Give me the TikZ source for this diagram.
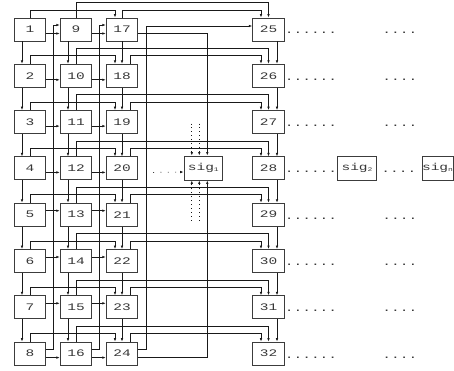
\documentclass[tikz,border=0pt]{standalone}
\usepackage{fontspec}
\usepackage{tikz}
\usetikzlibrary{arrows.meta}
\newfontfamily\netfont[FakeStretch=1.45]{Liberation Mono}
\newcommand{\sigsub}[1]{\raisebox{-0.6pt}{\fontsize{5.5}{5.5}\selectfont #1}}
\definecolor{netline}{RGB}{25,25,25}
\definecolor{netbox}{RGB}{60,60,60}
\definecolor{nettext}{RGB}{55,55,55}
\tikzset{
  bx/.style  ={draw=netbox, line width=0.9pt, minimum width=31.5pt, minimum height=23pt, inner sep=0pt, text=nettext, font=\netfont\fontsize{10}{10}\selectfont},
  sg/.style  ={bx, minimum width=38.5pt, minimum height=24pt},
  ar/.style  ={draw=netline, line width=0.7pt, -{Latex[length=3.5pt,width=2.6pt]}},
  dar/.style ={ar, dash pattern=on 0.9pt off 3pt},
  darh/.style={ar, dash pattern=on 0.9pt off 6.4pt},
  dt/.style  ={font=\netfont\fontsize{10}{10}\selectfont, text=nettext, inner sep=0pt, anchor=base west},
}
\begin{document}
\begin{tikzpicture}[x=1pt,y=1pt]
  \useasboundingbox (0,0) rectangle (454,370);
  % first column
  \node[bx] (a1) at (30,340.5) {1};
  \node[bx] (a2) at (30,294.2) {2};
  \node[bx] (a3) at (30,247.9) {3};
  \node[bx] (a4) at (30,201.6) {4};
  \node[bx] (a5) at (30,155.3) {5};
  \node[bx] (a6) at (30,109.0) {6};
  \node[bx] (a7) at (30,62.7) {7};
  \node[bx] (a8) at (30,16.4) {8};
  % second column
  \node[bx] (b1) at (76,340.5) {9};
  \node[bx] (b2) at (76,294.2) {10};
  \node[bx] (b3) at (76,247.9) {11};
  \node[bx] (b4) at (76,201.6) {12};
  \node[bx] (b5) at (76,155.3) {13};
  \node[bx] (b6) at (76,109.0) {14};
  \node[bx] (b7) at (76,62.7) {15};
  \node[bx] (b8) at (76,16.4) {16};
  % third column
  \node[bx] (c1) at (122,340.5) {17};
  \node[bx] (c2) at (122,294.2) {18};
  \node[bx] (c3) at (122,247.9) {19};
  \node[bx] (c4) at (122,201.6) {20};
  \node[bx] (c5) at (122,155.3) {21};
  \node[bx] (c6) at (122,109.0) {22};
  \node[bx] (c7) at (122,62.7) {23};
  \node[bx] (c8) at (122,16.4) {24};
  % fourth column
  \node[bx] (d1) at (268.5,340.5) {25};
  \node[bx] (d2) at (268.5,294.2) {26};
  \node[bx] (d3) at (268.5,247.9) {27};
  \node[bx] (d4) at (268.5,201.6) {28};
  \node[bx] (d5) at (268.5,155.3) {29};
  \node[bx] (d6) at (268.5,109.0) {30};
  \node[bx] (d7) at (268.5,62.7) {31};
  \node[bx] (d8) at (268.5,16.4) {32};
  % signature boxes
  \node[sg] (sig1) at (203.3,202) {sig\sigsub{1}};
  \node[sg] (sig2) at (357,202) {sig\sigsub{2}};
  \node[sg, minimum width=31pt] (sign) at (437.5,202) {sig\sigsub{n}};
  % vertical chains
  \draw[ar] ([xshift=-8pt]a1.south) -- ([xshift=-8pt]a2.north);
  \draw[ar] ([xshift=-8pt]a2.south) -- ([xshift=-8pt]a3.north);
  \draw[ar] ([xshift=-8pt]a3.south) -- ([xshift=-8pt]a4.north);
  \draw[ar] ([xshift=-8pt]a4.south) -- ([xshift=-8pt]a5.north);
  \draw[ar] ([xshift=-8pt]a5.south) -- ([xshift=-8pt]a6.north);
  \draw[ar] ([xshift=-8pt]a6.south) -- ([xshift=-8pt]a7.north);
  \draw[ar] ([xshift=-8pt]a7.south) -- ([xshift=-8pt]a8.north);
  \draw[ar] ([xshift=-8pt]b1.south) -- ([xshift=-8pt]b2.north);
  \draw[ar] ([xshift=-8pt]b2.south) -- ([xshift=-8pt]b3.north);
  \draw[ar] ([xshift=-8pt]b3.south) -- ([xshift=-8pt]b4.north);
  \draw[ar] ([xshift=-8pt]b4.south) -- ([xshift=-8pt]b5.north);
  \draw[ar] ([xshift=-8pt]b5.south) -- ([xshift=-8pt]b6.north);
  \draw[ar] ([xshift=-8pt]b6.south) -- ([xshift=-8pt]b7.north);
  \draw[ar] ([xshift=-8pt]b7.south) -- ([xshift=-8pt]b8.north);
  \draw[ar] (c1.south) -- (c2.north);
  \draw[ar] (c2.south) -- (c3.north);
  \draw[ar] (c3.south) -- (c4.north);
  \draw[ar] (c4.south) -- (c5.north);
  \draw[ar] (c5.south) -- (c6.north);
  \draw[ar] (c6.south) -- (c7.north);
  \draw[ar] (c7.south) -- (c8.north);
  \draw[ar] ([xshift=8.5pt]d1.south) -- ([xshift=8.5pt]d2.north);
  \draw[ar] ([xshift=8.5pt]d2.south) -- ([xshift=8.5pt]d3.north);
  \draw[ar] ([xshift=8.5pt]d3.south) -- ([xshift=8.5pt]d4.north);
  \draw[ar] ([xshift=8.5pt]d4.south) -- ([xshift=8.5pt]d5.north);
  \draw[ar] ([xshift=8.5pt]d5.south) -- ([xshift=8.5pt]d6.north);
  \draw[ar] ([xshift=8.5pt]d6.south) -- ([xshift=8.5pt]d7.north);
  \draw[ar] ([xshift=8.5pt]d7.south) -- ([xshift=8.5pt]d8.north);
  % routes over the tops
  \draw[ar] (a1.north) -- ++(0,7.5) -| ([xshift=-7pt]c1.north);
  \draw[ar] (a2.north) -- ++(0,8) -| ([xshift=-7pt]c2.north);
  \draw[ar] (a3.north) -- ++(0,8) -| ([xshift=-7pt]c3.north);
  \draw[ar] (a4.north) -- ++(0,8) -| ([xshift=-7pt]c4.north);
  \draw[ar] (a5.north) -- ++(0,8) -| ([xshift=-7pt]c5.north);
  \draw[ar] (a6.north) -- ++(0,8) -| ([xshift=-7pt]c6.north);
  \draw[ar] (a7.north) -- ++(0,8) -| ([xshift=-7pt]c7.north);
  \draw[ar] (a8.north) -- ++(0,8) -| ([xshift=-7pt]c8.north);
  \draw[ar] (b1.north) -- ++(0,14.8) -| (d1.north);
  \draw[ar] (b2.north) -- ++(0,15.5) -| (d2.north);
  \draw[ar] (b3.north) -- ++(0,15.5) -| (d3.north);
  \draw[ar] (b4.north) -- ++(0,15.5) -| (d4.north);
  \draw[ar] (b5.north) -- ++(0,15.5) -| (d5.north);
  \draw[ar] (b6.north) -- ++(0,15.5) -| (d6.north);
  \draw[ar] (b7.north) -- ++(0,15.5) -| (d7.north);
  \draw[ar] (b8.north) -- ++(0,15.5) -| (d8.north);
  \draw[ar] (c1.north) -- ++(0,7.5) -| ([xshift=-7.5pt]d1.north);
  \draw[ar] ([xshift=8pt]c2.north) -- ++(0,8) -| ([xshift=-7.5pt]d2.north);
  \draw[ar] ([xshift=8pt]c3.north) -- ++(0,8) -| ([xshift=-7.5pt]d3.north);
  \draw[ar] ([xshift=8pt]c4.north) -- ++(0,8) -| ([xshift=-7.5pt]d4.north);
  \draw[ar] ([xshift=8pt]c5.north) -- ++(0,8) -| ([xshift=-7.5pt]d5.north);
  \draw[ar] ([xshift=8pt]c6.north) -- ++(0,8) -| ([xshift=-7.5pt]d6.north);
  \draw[ar] ([xshift=8pt]c7.north) -- ++(0,8) -| ([xshift=-7.5pt]d7.north);
  \draw[ar] ([xshift=8pt]c8.north) -- ++(0,8) -| ([xshift=-7.5pt]d8.north);
  % straight links across
  \draw[ar] ([yshift=-4pt]a1.east) -- ([yshift=-4pt]b1.west);
  \draw[ar] ([yshift=-4pt]a2.east) -- ([yshift=-4pt]b2.west);
  \draw[ar] ([yshift=-4pt]a3.east) -- ([yshift=-4pt]b3.west);
  \draw[ar] ([yshift=-4pt]a4.east) -- ([yshift=-4pt]b4.west);
  \draw[ar] ([yshift=4pt]a5.east) -- ([yshift=4pt]b5.west);
  \draw[ar] ([yshift=4pt]a6.east) -- ([yshift=4pt]b6.west);
  \draw[ar] ([yshift=4pt]a7.east) -- ([yshift=4pt]b7.west);
  \draw[ar] ([yshift=-4pt]a8.east) -- ([yshift=-4pt]b8.west);
  \draw[ar] ([yshift=-4pt]b1.east) -- ([yshift=-4pt]c1.west);
  \draw[ar] ([yshift=-4pt]b2.east) -- ([yshift=-4pt]c2.west);
  \draw[ar] ([yshift=-4pt]b3.east) -- ([yshift=-4pt]c3.west);
  \draw[ar] ([yshift=-4pt]b4.east) -- ([yshift=-4pt]c4.west);
  \draw[ar] ([yshift=4pt]b5.east) -- ([yshift=4pt]c5.west);
  \draw[ar] ([yshift=4pt]b6.east) -- ([yshift=4pt]c6.west);
  \draw[ar] ([yshift=4pt]b7.east) -- ([yshift=4pt]c7.west);
  \draw[ar] ([yshift=-4pt]b8.east) -- ([yshift=-4pt]c8.west);
  % wrap-around links
  \draw[ar] ([yshift=4.5pt]a8.east) -- ++(7,0) |- ([yshift=4.5pt]b1.west);
  \draw[ar] ([yshift=4.5pt]b8.east) -- ++(7.5,0) |- ([yshift=4.5pt]c1.west);
  \draw[ar] ([yshift=4.5pt]c8.east) -- ++(8,0) |- ([yshift=3.5pt]d1.west);
  \draw[ar] ([yshift=-4pt]c1.east) -| ([xshift=4pt]sig1.north);
  \draw[ar] ([yshift=-4pt]c8.east) -| ([xshift=4pt]sig1.south);
  % dotted inputs of sig1
  \draw[dar] ([xshift=-11.5pt,yshift=32pt]sig1.north) -- ([xshift=-11.5pt]sig1.north);
  \draw[dar] ([xshift=-4pt,yshift=32pt]sig1.north) -- ([xshift=-4pt]sig1.north);
  \draw[dar] ([xshift=-11.5pt,yshift=-40pt]sig1.south) -- ([xshift=-11.5pt]sig1.south);
  \draw[dar] ([xshift=-4pt,yshift=-40pt]sig1.south) -- ([xshift=-4pt]sig1.south);
  \draw[darh] ([xshift=15pt,yshift=-4pt]c4.east) -- ([yshift=-4pt]sig1.west);
  % dots to the right
  \node[dt] (l1) at ([yshift=-4.5pt]d1.east) {......};
  \node[dt] (l2) at ([yshift=-4.5pt]d2.east) {......};
  \node[dt] (l3) at ([yshift=-4.5pt]d3.east) {......};
  \node[dt] (l4) at ([yshift=-4.5pt]d4.east) {......};
  \node[dt] (l5) at ([yshift=-4.5pt]d5.east) {......};
  \node[dt] (l6) at ([yshift=-4.5pt]d6.east) {......};
  \node[dt] (l7) at ([yshift=-4.5pt]d7.east) {......};
  \node[dt] (l8) at ([yshift=-4.5pt]d8.east) {......};
  \node[dt] (r1) at ([xshift=97.5pt,yshift=-4.5pt]d1.east) {....};
  \node[dt] (r2) at ([xshift=97.5pt,yshift=-4.5pt]d2.east) {....};
  \node[dt] (r3) at ([xshift=97.5pt,yshift=-4.5pt]d3.east) {....};
  \node[dt] (r4) at ([xshift=4.5pt,yshift=-4.5pt]sig2.east) {....};
  \node[dt] (r5) at ([xshift=97.5pt,yshift=-4.5pt]d5.east) {....};
  \node[dt] (r6) at ([xshift=97.5pt,yshift=-4.5pt]d6.east) {....};
  \node[dt] (r7) at ([xshift=97.5pt,yshift=-4.5pt]d7.east) {....};
  \node[dt] (r8) at ([xshift=97.5pt,yshift=-4.5pt]d8.east) {....};
\end{tikzpicture}
\end{document}
